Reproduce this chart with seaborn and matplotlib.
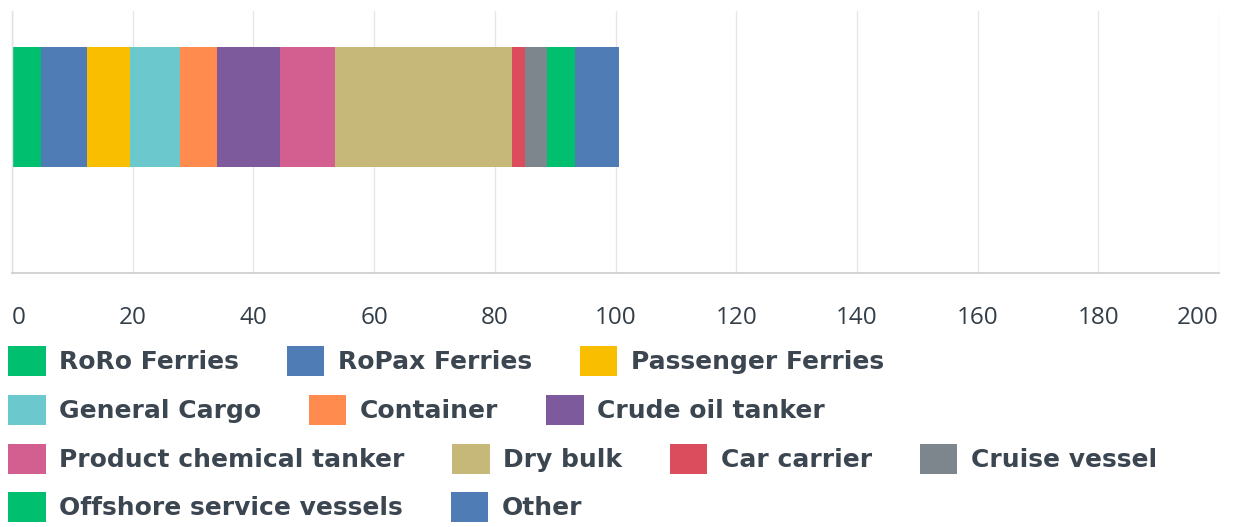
import matplotlib.pyplot as plt
import pandas as pd
import seaborn as sns
from matplotlib.patches import Patch

# --- Data (share of fleet) ---
vessel_types = [
    "RoRo Ferries", "RoPax Ferries", "Passenger Ferries",
    "General Cargo", "Container", "Crude oil tanker",
    "Product chemical tanker", "Dry bulk", "Car carrier", "Cruise vessel",
    "Offshore service vessels", "Other",
]
shares = [4.8, 7.6, 7.2, 8.2, 6.1, 10.5, 9.1, 29.3, 2.2, 3.6, 4.7, 7.2]
x_ticks = [0, 20, 40, 60, 80, 100, 120, 140, 160, 180, 200]

# colours per vessel type
palette = [
    "#00BF6F", "#507CB6", "#F9BE00",
    "#6BC8CD", "#FF8B4F", "#7C5A9C",
    "#D25F90", "#C6B879", "#DB4D5C", "#7D868C",
    "#00BF6F", "#507CB6",
]
# legend rows, as laid out in the original
legend_rows = [
    ["RoRo Ferries", "RoPax Ferries", "Passenger Ferries"],
    ["General Cargo", "Container", "Crude oil tanker"],
    ["Product chemical tanker", "Dry bulk", "Car carrier", "Cruise vessel"],
    ["Offshore service vessels", "Other"],
]

W, H = 1233, 527
TEXT = "#333E48"

df = pd.DataFrame({"vessel": vessel_types, "share": shares, "color": palette})
df["cum"] = df["share"].cumsum()
df["group"] = "all"

sns.set_theme(style="whitegrid")
plt.rcParams["font.family"] = ["Open Sans", "DejaVu Sans"]

fig = plt.figure(figsize=(W / 100, H / 100), dpi=100)
ax = fig.add_axes([12 / W, 1 - 273 / H, (1219 - 12) / W, (273 - 11) / H])

# stacked bar: draw cumulative totals from the outermost segment inwards
for i in reversed(range(len(df))):
    sns.barplot(
        data=df.iloc[[i]], x="cum", y="group", color=df["color"].iloc[i],
        saturation=1, width=0.8, linewidth=0, ax=ax,
    )

ax.set_xlim(0, 200)
ax.set_ylim(1.101, -0.638)
ax.set_xticks(x_ticks)
ax.set_yticks([])
ax.set_xlabel("")
ax.set_ylabel("")
ax.set_axisbelow(True)
ax.grid(axis="x", color="#E6E6E6", linewidth=1)
ax.grid(axis="y", visible=False)
ax.tick_params(axis="x", length=0, pad=24, labelsize=17.5, labelcolor=TEXT)
tick_labels = ax.get_xticklabels()
tick_labels[0].set_horizontalalignment("left")
tick_labels[-1].set_horizontalalignment("right")
for side in ["top", "right"]:
    ax.spines[side].set_visible(False)
ax.spines["left"].set_color("#E0E0E0")
ax.spines["bottom"].set_color("#CCCCCC")
ax.spines["left"].set_linewidth(1)
ax.spines["bottom"].set_linewidth(1.2)

# legend, one row at a time
color_of = dict(zip(vessel_types, palette))
row_centers = [361, 410, 459, 507]
for row, yc in zip(legend_rows, row_centers):
    handles = [Patch(facecolor=color_of[name], edgecolor="none") for name in row]
    leg = fig.legend(
        handles, row, loc="center left", bbox_to_anchor=(8 / W, 1 - yc / H),
        ncol=len(row), frameon=False, borderpad=0, borderaxespad=0,
        handlelength=1.5, handleheight=1.5, handletextpad=0.55,
        columnspacing=1.9,
        prop={"family": "DejaVu Sans", "size": 18, "weight": "bold"},
    )
    for t in leg.get_texts():
        t.set_color("#3C4650")

fig.savefig("out.png", dpi=100)
